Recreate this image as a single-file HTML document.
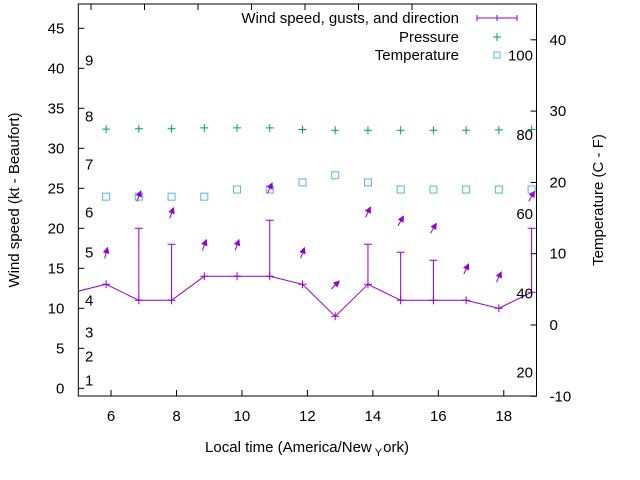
<!DOCTYPE html>
<html><head><meta charset="utf-8"><style>
html,body{margin:0;padding:0;background:#fff;}
svg{display:block;font-family:"Liberation Sans",sans-serif;}
</style></head><body>
<svg id="chart" width="640" height="480" viewBox="0 0 640 480" xmlns="http://www.w3.org/2000/svg">
<rect width="640" height="480" fill="#fff"/>
<g id="grid-layer"></g>
<g id="data-layer"></g>
<g id="text-layer" font-size="15" fill="#000"></g>
</svg>
<script>
const xTicks=[6,8,10,12,14,16,18];
const yTicks=[0,5,10,15,20,25,30,35,40,45];
const y2Ticks=[-10,0,10,20,30,40];
const fLabels=[20,40,60,80,100];
const beaufortLabels=[1,2,3,4,5,6,7,8,9];
const beaufortPos=[1,4,7,11,17,22,28,34,41];
const times=[4.85,5.85,6.85,7.85,8.85,9.85,10.85,11.85,12.85,13.85,14.85,15.85,16.85,17.85,18.85];
const wind=[12,13,11,11,14,14,14,13,9,13,11,11,11,10,12];
const gusts=[null,null,20,18,null,null,21,null,null,18,17,16,null,null,20];
const pressure=[null,32.4,32.45,32.45,32.55,32.55,32.55,32.35,32.25,32.25,32.25,32.25,32.25,32.3,32.35];
const temperature=[null,18,18,18,18,19,19,20,21,20,19,19,19,19,19];
const arrowLevel=[null,16.9,24,21.9,17.9,17.9,25,16.9,12.9,22,20.9,20,14.9,13.9,24];
const arrowDir=[null,15,20,20,20,20,25,20,45,25,30,30,25,25,30];

const L=78.3,R=536.5,T=4,B=396;
const X=v=>L+(v-5)/(19-5)*(R-L);
const Y=v=>388.3-v*8;
const Y2=v=>325-v*7.13;
const NS="http://www.w3.org/2000/svg";
function mk(tag,parent,attrs){const e=document.createElementNS(NS,tag);for(const k in attrs)e.setAttribute(k,attrs[k]);parent.appendChild(e);return e;}
const svg=document.getElementById('chart');
const g=document.getElementById('grid-layer');
const d=document.getElementById('data-layer');
const t=document.getElementById('text-layer');
const defs=mk('defs',svg,{});
const cp=mk('clipPath',defs,{id:'plotclip'});
mk('rect',cp,{x:L,y:T,width:R-L,height:B-T});
d.setAttribute('clip-path','url(#plotclip)');

const frame=mk('rect',g,{x:L,y:T,width:R-L,height:B-T,fill:'none',stroke:'#000','stroke-width':1});



xTicks.forEach(v=>{
 const x=X(v);
 mk('line',g,{x1:x,y1:B,x2:x,y2:B-6,stroke:'#000'});
 const tx=mk('text',t,{x:x,y:B+25,'text-anchor':'middle'});tx.textContent=v;
 
 
});
[91,144.5,198,251.5,305,358.5,412].forEach(x=>mk('line',g,{x1:x,y1:T,x2:x,y2:T+6,stroke:'#000'}));
yTicks.forEach(v=>{
 const y=Y(v);
 mk('line',g,{x1:L,y1:y,x2:L+6,y2:y,stroke:'#000'});
 const tx=mk('text',t,{x:L-14,y:y+5,'text-anchor':'end'});tx.textContent=v;
 
 
});
y2Ticks.forEach(v=>{
 const y=Y2(v);
 mk('line',g,{x1:R-6,y1:y,x2:R,y2:y,stroke:'#000'});
 const tx=mk('text',t,{x:R+13,y:y+5,'text-anchor':'start'});tx.textContent=v;
 
 
});
fLabels.forEach(f=>{
 const c=(f-32)*5/9;
 const tx=mk('text',t,{x:533,y:Y2(c)+5,'text-anchor':'end'});tx.textContent=f;
 
 
});
beaufortLabels.forEach((b,i)=>{
 const tx=mk('text',t,{x:85,y:Y(beaufortPos[i])+5});tx.textContent=b;
 
 
});

const C='#9400d3';
let pts=times.map((tm,i)=>X(tm)+','+Y(wind[i])).join(' ');
const wl=mk('polyline',d,{points:pts,fill:'none',stroke:C,'stroke-width':1});


times.forEach((tm,i)=>{
 const x=X(tm),y=Y(wind[i]);
 const p=mk('path',d,{d:`M${x-4},${y}H${x+4}M${x},${y-4}V${y+4}`,stroke:C});
 
 
 if(gusts[i]!=null){
  const gy=Y(gusts[i]);
  const gb=mk('path',d,{d:`M${x},${y}V${gy}M${x-4},${gy}H${x+4}`,stroke:C});
  
  
 }
 if(pressure[i]!=null){
  const py=Y(pressure[i]);
  const pp=mk('path',d,{d:`M${x-4},${py}H${x+4}M${x},${py-4}V${py+4}`,stroke:'#009e73'});
  
  
 }
 if(temperature[i]!=null){
  const ty=Y2(temperature[i]);
  const tr=mk('rect',d,{x:x-3.5,y:ty-3.5,width:7,height:7,fill:'none',stroke:'#56b4e9'});
  
  
 }
 if(arrowLevel[i]!=null){
  const ay=Y(arrowLevel[i]),a=arrowDir[i]*Math.PI/180,len=11;
  const dx=Math.sin(a)*len,dy=-Math.cos(a)*len;
  const x0=x-dx/2,y0=ay-dy/2,x1=x+dx/2,y1=ay+dy/2;
  const ux=dx/len,uy=dy/len,px=-uy,py=ux;
  const ar=mk('g',d,{});
  
  
  mk('line',ar,{x1:x0,y1:y0,x2:x1,y2:y1,stroke:C});
  mk('polygon',ar,{points:`${x1},${y1} ${x1-ux*5+px*2.5},${y1-uy*5+py*2.5} ${x1-ux*5-px*2.5},${y1-uy*5-py*2.5}`,fill:C,stroke:C});
 }
});

const leg=[['Wind speed, gusts, and direction',18],['Pressure',37],['Temperature',55]];
leg.forEach(([s,y])=>{
 const tx=mk('text',t,{x:459,y:y+5,'text-anchor':'end'});tx.textContent=s;
 
 
});
const l1=mk('path',g,{d:'M477,18H517M477,15V21M517,15V21M497,15V21',stroke:C});


const l2=mk('path',g,{d:'M493,37H501M497,33V41',stroke:'#009e73'});


const l3=mk('rect',g,{x:494,y:52,width:6,height:6,fill:'none',stroke:'#56b4e9'});



const yt=mk('text',t,{x:0,y:0,'text-anchor':'middle',transform:'translate(19,200) rotate(-90)'});yt.textContent='Wind speed (kt - Beaufort)';


const y2t=mk('text',t,{x:0,y:0,'text-anchor':'middle',transform:'translate(603,200) rotate(-90)'});y2t.textContent='Temperature (C - F)';


const xt=mk('text',t,{x:307,y:452,'text-anchor':'middle'});


xt.appendChild(document.createTextNode('Local time (America/New'));
const sub=mk('tspan',xt,{'font-size':'11',dy:'4',dx:'3'});sub.textContent='Y';
const rest=mk('tspan',xt,{dy:'-4',dx:'1'});rest.textContent='ork)';
</script>
</body></html>
